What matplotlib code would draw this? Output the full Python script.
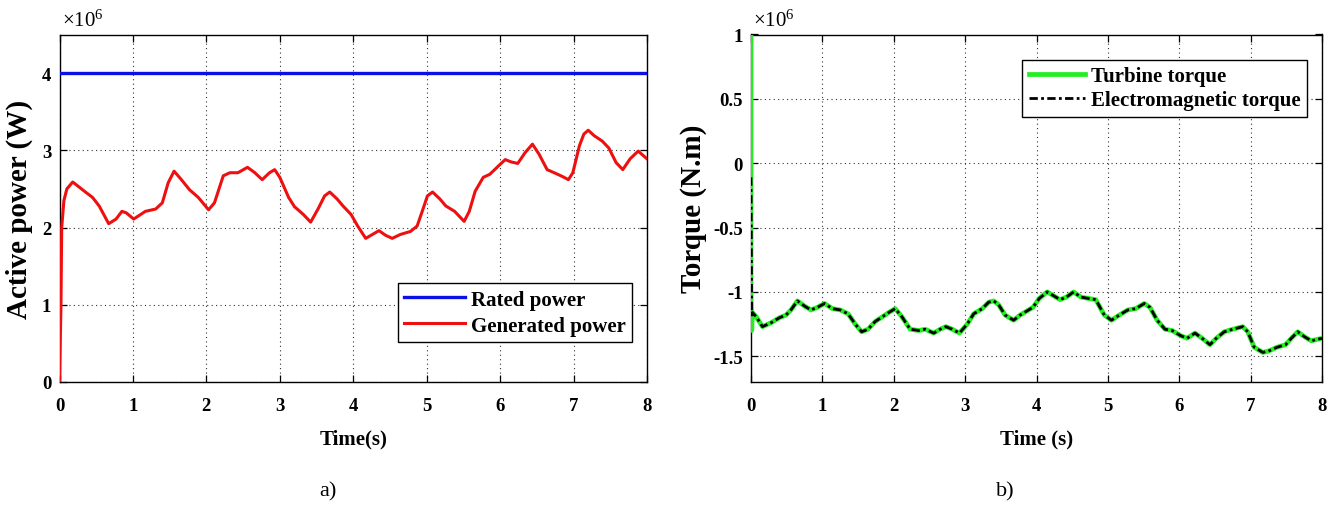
import matplotlib
matplotlib.use("Agg")
import matplotlib.pyplot as plt
import numpy as np

plt.rcParams["font.family"] = ["Liberation Serif", "DejaVu Serif"]
plt.rcParams["mathtext.fontset"] = "custom"
plt.rcParams["mathtext.rm"] = "Liberation Serif"
plt.rcParams["mathtext.it"] = "Liberation Serif:italic"
plt.rcParams["mathtext.bf"] = "Liberation Serif:bold"

# ---- Panel a): active power (values in units of 1e6 W) ----
t_power = [0.0, 0.02, 0.03, 0.06, 0.10, 0.18, 0.34, 0.45, 0.54, 0.67, 0.77, 0.85,
           0.91, 1.01, 1.17, 1.31, 1.40, 1.48, 1.56, 1.66, 1.77, 1.89, 2.03, 2.11,
           2.23, 2.32, 2.43, 2.56, 2.66, 2.76, 2.86, 2.93, 3.00, 3.12, 3.20, 3.32,
           3.42, 3.52, 3.61, 3.68, 3.78, 3.86, 3.97, 4.06, 4.17, 4.26, 4.35, 4.44,
           4.53, 4.64, 4.78, 4.87, 4.95, 5.01, 5.08, 5.18, 5.26, 5.38, 5.51, 5.58,
           5.66, 5.77, 5.86, 5.98, 6.07, 6.15, 6.24, 6.34, 6.44, 6.53, 6.64, 6.76,
           6.85, 6.93, 6.99, 7.08, 7.14, 7.20, 7.28, 7.39, 7.48, 7.58, 7.67, 7.77,
           7.88, 8.00]
p_generated = [0.0, 1.0, 2.0, 2.35, 2.50, 2.59, 2.47, 2.39, 2.28, 2.05, 2.11, 2.21,
               2.19, 2.11, 2.21, 2.24, 2.32, 2.58, 2.73, 2.62, 2.49, 2.39, 2.23, 2.32,
               2.67, 2.71, 2.71, 2.78, 2.71, 2.62, 2.71, 2.75, 2.65, 2.39, 2.27, 2.17,
               2.07, 2.24, 2.41, 2.46, 2.37, 2.28, 2.17, 2.02, 1.86, 1.91, 1.96, 1.90,
               1.86, 1.91, 1.95, 2.02, 2.24, 2.41, 2.46, 2.37, 2.28, 2.21, 2.08, 2.21,
               2.47, 2.65, 2.69, 2.80, 2.88, 2.85, 2.83, 2.97, 3.08, 2.95, 2.75, 2.70,
               2.66, 2.62, 2.71, 3.06, 3.21, 3.26, 3.19, 3.12, 3.03, 2.84, 2.75, 2.89,
               2.99, 2.89]
t_rated = [0.0, 8.0]
p_rated = [4.0, 4.0]

# ---- Panel b): torques (values in units of 1e6 N.m) ----
t_torque = [0.02, 0.07, 0.16, 0.28, 0.40, 0.49, 0.56, 0.65, 0.75, 0.84, 0.93, 1.03,
            1.14, 1.25, 1.36, 1.46, 1.55, 1.64, 1.74, 1.85, 1.93, 2.02, 2.11, 2.23,
            2.35, 2.44, 2.56, 2.65, 2.73, 2.82, 2.92, 3.03, 3.12, 3.24, 3.33, 3.40,
            3.47, 3.56, 3.68, 3.77, 3.86, 3.95, 4.04, 4.15, 4.24, 4.33, 4.42, 4.52,
            4.62, 4.72, 4.83, 4.95, 5.05, 5.16, 5.28, 5.39, 5.51, 5.59, 5.69, 5.80,
            5.90, 6.02, 6.11, 6.22, 6.32, 6.43, 6.52, 6.63, 6.75, 6.89, 6.96, 7.05,
            7.17, 7.25, 7.37, 7.49, 7.57, 7.66, 7.76, 7.85, 8.00]
torque_steady = [-1.16, -1.19, -1.27, -1.24, -1.20, -1.18, -1.14, -1.07, -1.11, -1.14,
                 -1.12, -1.09, -1.13, -1.14, -1.17, -1.25, -1.31, -1.29, -1.23, -1.19,
                 -1.16, -1.13, -1.19, -1.29, -1.30, -1.29, -1.32, -1.29, -1.27, -1.29,
                 -1.32, -1.25, -1.17, -1.13, -1.08, -1.07, -1.10, -1.18, -1.22, -1.18,
                 -1.15, -1.12, -1.05, -1.00, -1.03, -1.06, -1.04, -1.00, -1.04, -1.05,
                 -1.06, -1.18, -1.22, -1.18, -1.14, -1.13, -1.09, -1.12, -1.22, -1.29,
                 -1.30, -1.34, -1.36, -1.32, -1.36, -1.41, -1.36, -1.31, -1.29, -1.27,
                 -1.31, -1.43, -1.47, -1.46, -1.43, -1.41, -1.36, -1.31, -1.35, -1.38,
                 -1.36]
# start-up transients at t = 0
t_turbine_start = [0.0, 0.0, 0.01]
turbine_start = [1.2, -1.0, -1.30]
t_em_start = [0.0, 0.01]
em_start = [-0.11, -1.20]

t_turbine = t_turbine_start + t_torque
turbine_torque = turbine_start + torque_steady
t_em = t_em_start + t_torque
em_torque = em_start + torque_steady

scale = 1e6

W, H = 1343, 506
fig = plt.figure(figsize=(W / 100, H / 100), dpi=100)

ax1 = fig.add_axes([59.5 / W, 1 - 383 / H, (647 - 59.5) / W, (383 - 35.5) / H])
ax2 = fig.add_axes([751 / W, 1 - 383 / H, (1322 - 751) / W, (383 - 35.5) / H])

grid_kw = dict(color="0.2", linestyle=(0, (1, 3)), linewidth=0.8)
legend_font = dict(family="Liberation Serif", weight="bold", size=15)

# Panel a
ax1.plot(t_rated, np.array(p_rated) * scale, color="#0a10e6", lw=2.4,
         label="Rated power", zorder=3)
ax1.plot(t_power, np.array(p_generated) * scale, color="#ee1010", lw=2.2,
         label="Generated power", zorder=3, solid_joinstyle="round")
ax1.set_xlim(0, 8)
ax1.set_ylim(0, 4.5e6)
ax1.set_yticks(np.arange(0, 4.01e6, 1e6))
ax1.set_yticklabels(["0", "1", "2", "3", "4"])
ax1.set_xlabel("Time(s)", fontsize=15, fontweight="bold", labelpad=10)
ax1.set_ylabel("Active power (W)", fontsize=21, fontweight="bold", labelpad=6)
leg1 = ax1.legend(loc="lower right", bbox_to_anchor=(0.9745, 0.115),
                  borderaxespad=0, fancybox=False, edgecolor="black",
                  framealpha=1, handlelength=2.9, handletextpad=0.3,
                  labelspacing=0.3, borderpad=0.3, prop=legend_font)
leg1.get_frame().set_linewidth(1.0)

# Panel b
ax2.plot(t_turbine, np.array(turbine_torque) * scale, color="#22ee22", lw=3.4,
         label="Turbine torque", zorder=3, solid_joinstyle="round")
ax2.plot(t_em, np.array(em_torque) * scale, color="black", lw=2.0,
         linestyle=(0, (3, 1.2, 1, 1.2)), label="Electromagnetic torque", zorder=4)
ax2.set_xlim(0, 8)
ax2.set_ylim(-1.7e6, 1.0e6)
ax2.set_yticks(np.arange(-1.5e6, 1.01e6, 0.5e6))
ax2.set_yticklabels(["-1.5", "-1", "-0.5", "0", "0.5", "1"])
ax2.set_xlabel("Time (s)", fontsize=15, fontweight="bold", labelpad=10)
ax2.set_ylabel("Torque (N.m)", fontsize=21, fontweight="bold", labelpad=4)
leg2 = ax2.legend(loc="upper right", bbox_to_anchor=(0.9737, 0.9266),
                  borderaxespad=0, fancybox=False, edgecolor="black",
                  framealpha=1, handlelength=2.7, handletextpad=0.3,
                  labelspacing=0.2, borderpad=0.3, prop=legend_font)
leg2.get_frame().set_linewidth(1.0)

for ax in (ax1, ax2):
    ax.set_xticks(range(0, 9))
    ax.set_xticklabels([str(i) for i in range(0, 9)])
    ax.grid(True, **grid_kw)
    ax.set_axisbelow(True)
    ax.tick_params(direction="in", top=True, right=True, length=5, width=0.9,
                   labelsize=13.5)
    ax.tick_params(axis="x", pad=11)
    ax.tick_params(axis="y", pad=6)
    for lab in ax.get_xticklabels() + ax.get_yticklabels():
        lab.set_fontweight("bold")
    for sp in ax.spines.values():
        sp.set_linewidth(1.0)
    ax.text(0.004, 1.012, "×10$^{6}$", transform=ax.transAxes, fontsize=15,
            ha="left", va="bottom")

fig.text(328 / W, 1 - 492 / H, "a)", fontsize=16, ha="center", va="center")
fig.text(1005 / W, 1 - 492 / H, "b)", fontsize=16, ha="center", va="center")

fig.savefig("out.png", dpi=100)
